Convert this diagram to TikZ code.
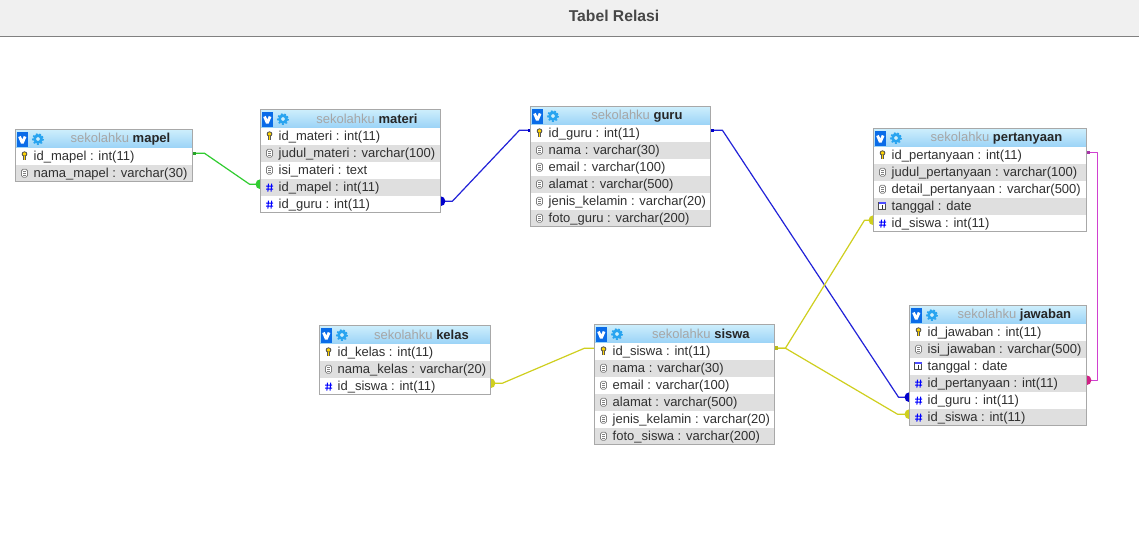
\documentclass[tikz,border=0pt]{standalone}
\usepackage{fontspec}
\setmainfont{Liberation Sans}
\usetikzlibrary{calc}
\pgfdeclarelayer{canvas}
\pgfdeclarelayer{back}
\pgfsetlayers{canvas,back,main}
\definecolor{hdrtop}{HTML}{CDEEFC}
\definecolor{hdrbot}{HTML}{9BD3F7}
\definecolor{rowgrey}{HTML}{DFDFDF}
\definecolor{edgegrey}{HTML}{A8A8A8}
\definecolor{txt}{HTML}{303030}
\definecolor{schema}{HTML}{A6A6A6}
\definecolor{cgreen}{HTML}{30CC30}
\definecolor{cblue}{HTML}{2222D8}
\definecolor{cyellow}{HTML}{CFCF1E}
\definecolor{cmag}{HTML}{D040D0}
\definecolor{iconv}{HTML}{0A6CE8}
\definecolor{icongear}{HTML}{28A4F0}
\tikzset{
  x=1pt,y=-1pt,
  hdrcell/.style={top color=hdrtop,bottom color=hdrbot,draw=none,anchor=north west,inner sep=0pt},
  rowcell/.style={draw=none,anchor=north west,inner sep=0pt,minimum height=17pt},
  rowtext/.style={anchor=west,inner sep=0pt,font=\fontsize{13}{15}\selectfont,text=txt},
  titletext/.style={anchor=center,inner sep=0pt,font=\fontsize{13}{15}\selectfont},
  link/.style={line width=1.2pt,line join=round},
}
\newcommand\ick[1]{\begin{scope}[shift={(#1.west)}]
  \draw[line width=3pt,draw=black!65] (9,-1) -- (9,4.2);
  \draw[line width=.8pt,draw=black!70,fill=yellow!70!orange] (9,-2.2) ellipse (2.4 and 2.2);
  \draw[line width=1.2pt,draw=yellow!70!orange] (9,0.2) -- (9,3.6);
\end{scope}}
\newcommand\icd[1]{\begin{scope}[shift={(#1.west)}]
  \draw[line width=.8pt,draw=black!50,fill=white,rounded corners=1.6pt] (6,-4) rectangle (12,4);
  \draw[line width=.6pt,draw=black!50] (7.5,-1.6) -- (10.5,-1.6) (7.5,.4) -- (10.5,.4) (7.5,2.2) -- (10.5,2.2);
\end{scope}}
\newcommand\ich[1]{\begin{scope}[shift={(#1.west)}]
  \draw[line width=1pt,draw=blue] (8,-3.6) -- (7.4,4.4) (11.2,-3.6) -- (10.6,4.4) (5.6,-1.1) -- (12.6,-1.1) (5.6,2) -- (12.6,2);
\end{scope}}
\newcommand\icc[1]{\begin{scope}[shift={(#1.west)}]
  \draw[line width=.8pt,draw=black!70,fill=white] (5,-3.5) rectangle (12,3.5);
  \draw[line width=1.4pt,draw=blue!70] (5,-3.2) -- (12,-3.2);
  \draw[line width=.9pt,draw=black!80] (8.7,-1.2) -- (8.7,2.5);
\end{scope}}
\newcommand\dbtable[6]{%
  \pgfmathsetmacro\tx{#2}\pgfmathsetmacro\ty{#3}%
  \node[hdrcell,minimum width=#4pt,minimum height=18pt] (#1-h) at (\tx,\ty) {};
  \fill[iconv] ($(#1-h.north west)+(1.5,2.5)$) rectangle ($(#1-h.north west)+(12,17)$);
  \draw[white,line width=2.8pt,line join=bevel] ($(#1-h.north west)+(4,7)$) -- ($(#1-h.north west)+(6.8,13.6)$) -- ($(#1-h.north west)+(9.6,7)$);
  \draw[icongear,line width=2.6pt,fill=hdrtop] ($(#1-h.north west)+(22.5,9.5)$) circle (3.4);
  \draw[icongear,line width=1.6pt,dash pattern=on 1.8pt off 1.8pt] ($(#1-h.north west)+(22.5,9.5)$) circle (5.2);
  \node[titletext] (#1-t) at ($(#1-h.north west)!.5!(#1-h.north east)+(16.5,9.2)$)
     {\textcolor{schema}{sekolahku} \textcolor{black!85}{\textbf{#5}}};
  \foreach \rt/\rs [count=\ri] in {#6}{%
    \pgfmathsetmacro\ry{\ty+18+17*(\ri-1)}%
    \ifodd\ri\def\rc{white}\else\def\rc{rowgrey}\fi
    \node[rowcell,fill=\rc,minimum width=#4pt] (#1-\ri) at (\tx,\ry) {};
    \coordinate (#1-\ri-l) at ($(#1-\ri.west)+(0,-3)$);
    \coordinate (#1-\ri-r) at ($(#1-\ri.east)+(0,-3)$);
    \csname ic\rt\endcsname{#1-\ri}
    \node[rowtext] (#1-\ri-t) at ($(#1-\ri.west)+(18,.5)$) {\rs};
    \xdef\lastrow{\ri}
  }%
  \draw[edgegrey,line width=1pt] (#1-h.north west) rectangle (#1-\lastrow.south east);
}
\begin{document}
\begin{tikzpicture}
\useasboundingbox (0,0) rectangle (1139,542);
\begin{pgfonlayer}{canvas}
\fill[white] (0,0) rectangle (1139,542);
\fill[black!6] (0,0) rectangle (1139,36);
\draw[black!50,line width=1pt] (0,36.5) -- (1139,36.5);
\end{pgfonlayer}
\node[font=\fontsize{15.7}{18}\selectfont\bfseries,text=black!72,inner sep=0pt] (title) at (614,16) {Tabel Relasi};

\dbtable{mapel}{15.5}{129.5}{176.5}{mapel}{k/{id\_mapel : int(11)},d/{nama\_mapel : varchar(30)}}
\dbtable{materi}{260.5}{109.5}{179.5}{materi}{k/{id\_materi : int(11)},d/{judul\_materi : varchar(100)},d/{isi\_materi : text},h/{id\_mapel : int(11)},h/{id\_guru : int(11)}}
\dbtable{guru}{530.5}{106.5}{179.5}{guru}{k/{id\_guru : int(11)},d/{nama : varchar(30)},d/{email : varchar(100)},d/{alamat : varchar(500)},d/{jenis\_kelamin : varchar(20)},d/{foto\_guru : varchar(200)}}
\dbtable{pertanyaan}{873.5}{128.5}{212.5}{pertanyaan}{k/{id\_pertanyaan : int(11)},d/{judul\_pertanyaan : varchar(100)},d/{detail\_pertanyaan : varchar(500)},c/{tanggal : date},h/{id\_siswa : int(11)}}
\dbtable{jawaban}{909.5}{305.5}{176.5}{jawaban}{k/{id\_jawaban : int(11)},d/{isi\_jawaban : varchar(500)},c/{tanggal : date},h/{id\_pertanyaan : int(11)},h/{id\_guru : int(11)},h/{id\_siswa : int(11)}}
\dbtable{siswa}{594.5}{324.5}{179.5}{siswa}{k/{id\_siswa : int(11)},d/{nama : varchar(30)},d/{email : varchar(100)},d/{alamat : varchar(500)},d/{jenis\_kelamin : varchar(20)},d/{foto\_siswa : varchar(200)}}
\dbtable{kelas}{319.5}{325.5}{170.5}{kelas}{k/{id\_kelas : int(11)},d/{nama\_kelas : varchar(20)},h/{id\_siswa : int(11)}}

\begin{pgfonlayer}{back}
  \draw[link,cgreen] (mapel-1-r) -- ++(12,0) -- ($(materi-4-l)+(-11,0)$) -- (materi-4-l);
  \fill[cgreen!80!black] ($(mapel-1-r)+(0,-1.5)$) rectangle ++(4,3);
  \fill[cgreen] (materi-4-l) circle (5);
  \draw[link,cblue] (materi-5-r) -- ++(12,0) -- ($(guru-1-l)+(-11,0)$) -- (guru-1-l);
  \fill[blue!80!black] (materi-5-r) circle (5);
  \fill[blue!80!black] ($(guru-1-l)+(-3,-1.5)$) rectangle ++(3,3);
  \draw[link,cblue] (guru-1-r) -- ++(12,0) -- ($(jawaban-5-l)+(-11,0)$) -- (jawaban-5-l);
  \fill[blue!80!black] ($(guru-1-r)+(0,-1.5)$) rectangle ++(4,3);
  \fill[blue!80!black] (jawaban-5-l) circle (5);
  \draw[link,cyellow] (kelas-3-r) -- ++(12,0) -- ($(siswa-1-l)+(-10,0)$) -- (siswa-1-l);
  \fill[cyellow] (kelas-3-r) circle (5);
  \draw[link,cyellow] (siswa-1-r) -- ++(11,0) -- ($(pertanyaan-5-l)+(-9,0)$) -- (pertanyaan-5-l);
  \draw[link,cyellow] (siswa-1-r) -- ++(11,0) -- ($(jawaban-6-l)+(-12,0)$) -- (jawaban-6-l);
  \fill[cyellow!90!black] ($(siswa-1-r)+(0,-2)$) rectangle ++(4,4);
  \fill[cyellow] (pertanyaan-5-l) circle (5);
  \fill[cyellow] (jawaban-6-l) circle (5);
  \draw[link,cmag] (pertanyaan-1-r) -- ++(11,0) |- (jawaban-4-r);
  \fill[cmag!80!black] ($(pertanyaan-1-r)+(0,-1.5)$) rectangle ++(4,3);
  \fill[magenta!70!violet] (jawaban-4-r) circle (5);
\end{pgfonlayer}
\end{tikzpicture}
\end{document}
